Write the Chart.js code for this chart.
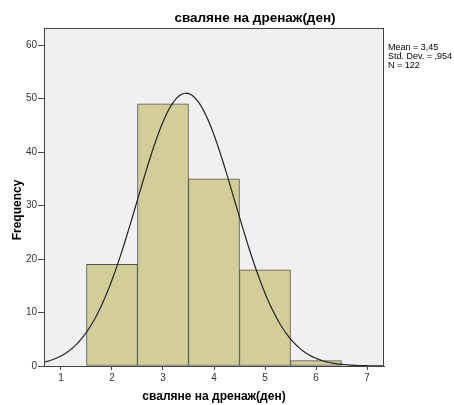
<!DOCTYPE html>
<html><head><meta charset="utf-8">
<script src="https://cdn.jsdelivr.net/npm/chart.js@4.4.0/dist/chart.umd.min.js"></script>
<style>html,body{margin:0;padding:0;background:#fff}#wrap{width:454px;height:405px}</style>
</head><body><div id="wrap"><canvas id="c" width="454" height="405"></canvas></div>
<script>
const chartTitle = "сваляне на дренаж(ден)";
const xTitle = "сваляне на дренаж(ден)";
const yTitle = "Frequency";
const binCenters = [2, 3, 4, 5, 6];
const frequencies = [19, 49, 35, 18, 1];
const xTicks = [1, 2, 3, 4, 5, 6, 7];
const yTicks = [0, 10, 20, 30, 40, 50, 60];
const statsLines = ["Mean = 3,45", "Std. Dev. = ,954", "N = 122"];
const mean = 3.45, sd = 0.954, n = 122, binWidth = 1;

const xMin = 0.667, xMax = 7.333, yMax = 63.2;
const curve = [];
for (let x = xMin; x <= xMax + 1e-9; x += 0.04) {
  curve.push({x: x, y: n * binWidth / (sd * Math.sqrt(2 * Math.PI)) * Math.exp(-0.5 * Math.pow((x - mean) / sd, 2))});
}

const deco = {
  id: 'deco',
  beforeDraw(ch) {
    const a = ch.chartArea, c = ch.ctx;
    c.save(); c.fillStyle = '#f0f0f0'; c.fillRect(a.left, a.top, a.right - a.left, a.bottom - a.top); c.restore();
  },
  afterDraw(ch) {
    const a = ch.chartArea, c = ch.ctx;
    c.save();
    c.strokeStyle = '#444'; c.lineWidth = 1;
    c.strokeRect(a.left + 0.5, a.top + 0.5, a.right - a.left - 1, a.bottom - a.top);
    c.fillStyle = '#000';
    c.font = 'bold 13.5px "Liberation Sans", Arial, sans-serif';
    c.textAlign = 'center'; c.textBaseline = 'middle';
    c.fillText(chartTitle, 255, 18);
    c.font = 'bold 12px "Liberation Sans", Arial, sans-serif';
    c.fillText(xTitle, (a.left + a.right) / 2, 397);
    c.save(); c.translate(18, 210); c.rotate(-Math.PI / 2); c.fillText(yTitle, 0, 0); c.restore();
    c.font = '9px "Liberation Sans", Arial, sans-serif';
    c.textAlign = 'left';
    statsLines.forEach((s, i) => c.fillText(s, 388, 48 + i * 8.7));
    c.restore();
  }
};

new Chart(document.getElementById('c'), {
  type: 'bar',
  data: {
    datasets: [
      {type: 'line', data: curve, borderColor: '#222', borderWidth: 1.2, pointRadius: 0, tension: 0, fill: false, order: 0},
      {type: 'bar', data: binCenters.map((x, i) => ({x: x, y: frequencies[i]})), backgroundColor: '#d3ce99', borderColor: '#555550', borderWidth: 1, barPercentage: 1, categoryPercentage: 1, borderSkipped: false, order: 1}
    ]
  },
  options: {
    responsive: false, animation: false,
    layout: {padding: {left: 0, right: 70, top: 28, bottom: 0}},
    plugins: {legend: {display: false}, tooltip: {enabled: false}},
    scales: {
      x: {type: 'linear', min: xMin, max: xMax, offset: false,
        afterBuildTicks: s => { s.ticks = xTicks.map(v => ({value: v})); },
        afterFit: s => { s.height = 39; },
        ticks: {includeBounds: false, color: '#333', font: {size: 10, family: '"Liberation Sans", Arial'}, padding: 2, maxRotation: 0},
        grid: {offset: false, drawOnChartArea: false, tickLength: 4, color: '#444'}, border: {color: '#444'}},
      y: {min: 0, max: yMax,
        afterBuildTicks: s => { s.ticks = yTicks.map(v => ({value: v})); },
        afterFit: s => { s.width = 44; },
        ticks: {color: '#333', font: {size: 10, family: '"Liberation Sans", Arial'}, padding: 1},
        grid: {offset: false, drawOnChartArea: false, tickLength: 6, color: '#444'}, border: {color: '#444'}}
    }
  },
  plugins: [deco]
});
</script></body></html>
